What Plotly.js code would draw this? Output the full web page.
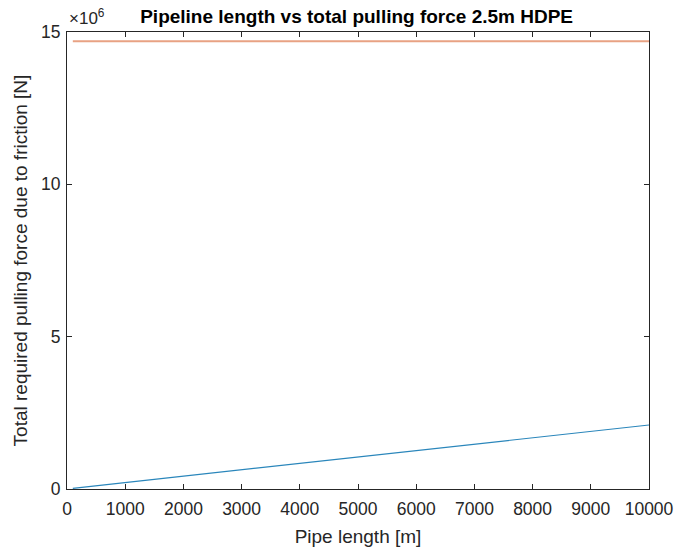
<!DOCTYPE html>
<html>
<head>
<meta charset="utf-8">
<script src="https://cdn.plot.ly/plotly-3.0.1.min.js"></script>
<style>html,body{margin:0;padding:0;background:#fff;}#chart{width:678px;height:551px;}</style>
</head>
<body>
<div id="chart"></div>
<script>
// Data (pipe length in m, force in N)
var pipeLength = [100, 10000];
var frictionForce = [21000, 2100000];
var capacityForce = [14700000, 14700000];
var xTicks = [0,1000,2000,3000,4000,5000,6000,7000,8000,9000,10000];
var yTickVals = [0, 5e6, 10e6, 15e6];
var yTickText = ['0', '5', '10', '15'];

var fontFam = 'Liberation Sans, Arial, sans-serif';
var txtColor = '#262626';

var traces = [
  {x: pipeLength, y: frictionForce, type: 'scatter', mode: 'lines',
   line: {color: '#2A86BB', width: 1.2}, hoverinfo: 'skip'},
  {x: pipeLength, y: capacityForce, type: 'scatter', mode: 'lines',
   line: {color: '#E8A283', width: 2}, hoverinfo: 'skip'}
];

var layout = {
  width: 678, height: 551,
  margin: {l: 67, r: 29, t: 32, b: 62},
  paper_bgcolor: '#fff', plot_bgcolor: '#fff',
  showlegend: false,
  font: {family: fontFam, color: txtColor, size: 18},
  title: {text: 'Pipeline length vs total pulling force 2.5m HDPE',
          font: {family: fontFam, size: 19, color: '#000', weight: 'bold'},
          x: 0.526, xanchor: 'center', y: 1 - 16/551, yanchor: 'middle', xref: 'container', yref: 'container'},
  xaxis: {
    range: [0, 10000], tickvals: xTicks, ticktext: xTicks.map(String),
    ticks: 'inside', ticklen: 5, tickcolor: txtColor, tickwidth: 1,
    showline: true, linecolor: txtColor, linewidth: 1, mirror: 'ticks',
    showgrid: false, zeroline: false, ticklabelstandoff: 4,
    tickfont: {family: fontFam, size: 17.5, color: txtColor},
    title: {text: 'Pipe length [m]', font: {family: fontFam, size: 19, color: txtColor}, standoff: 11}
  },
  yaxis: {
    range: [0, 15e6], tickvals: yTickVals, ticktext: yTickText,
    ticks: 'inside', ticklen: 5, tickcolor: txtColor, tickwidth: 1,
    showline: true, linecolor: txtColor, linewidth: 1, mirror: 'ticks',
    showgrid: false, zeroline: false, ticklabelstandoff: 2,
    tickfont: {family: fontFam, size: 17.5, color: txtColor},
    title: {text: 'Total required pulling force due to friction [N]', font: {family: fontFam, size: 19, color: txtColor}, standoff: 8}
  },
  annotations: [
    {text: '×10<sup>6</sup>', xref: 'paper', yref: 'paper', x: 0, y: 1, xanchor: 'left', yanchor: 'bottom',
     xshift: 0, yshift: 2, showarrow: false, font: {family: fontFam, size: 17, color: txtColor}}
  ]
};

Plotly.newPlot('chart', traces, layout, {displayModeBar: false, staticPlot: true});
</script>
</body>
</html>
